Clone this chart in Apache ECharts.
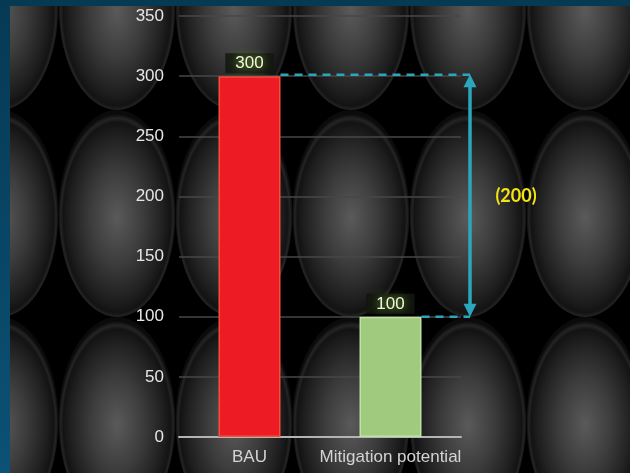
<!DOCTYPE html>
<html><head><meta charset="utf-8">
<script src="https://cdn.jsdelivr.net/npm/echarts@6/dist/echarts.min.js"></script>
<style>html,body{margin:0;padding:0;background:#0a4565}#c{width:630px;height:473px}</style>
</head><body><div id="c"></div>
<script>
// ---- data ----
const categories = ['BAU', 'Mitigation potential'];
const values = [300, 100];
const barColors = ['#ed1c24', '#a0cb7e'];
const yMin = 0, yMax = 350, yInterval = 50;
const gapLabel = '(' + (values[0] - values[1]) + ')';

const chart = echarts.init(document.getElementById('c'), null, {renderer: 'canvas'});

chart.setOption({
  animation: false,
  backgroundColor: 'transparent',
  grid: {left: 179, right: 169, top: 16, bottom: 36},
  xAxis: {
    type: 'category', data: categories,
    axisLine: {lineStyle: {color: '#b4b4b4', width: 2}},
    axisTick: {show: false},
    axisLabel: {interval: 0, color: '#d4d4d4', fontSize: 17, fontFamily: 'Liberation Sans, Arial', margin: 12}
  },
  yAxis: {
    type: 'value', min: yMin, max: yMax, interval: yInterval,
    axisLine: {show: false}, axisTick: {show: false},
    axisLabel: {color: '#e6e6e6', fontSize: 17, fontFamily: 'Liberation Sans, Arial', margin: 15},
    splitLine: {lineStyle: {color: '#474747', width: 1.5}}
  },
  series: [{
    type: 'bar', barWidth: 62, z: 5,
    data: values.map((v, i) => ({
      value: v,
      itemStyle: {
        color: barColors[i],
        borderColor: i === 0 ? '#f4503e' : '#c2e0a6',
        borderWidth: 1.5
      }
    })),
    label: {
      show: true, position: 'top', distance: 3,
      color: '#eef7dc', fontSize: 17, fontFamily: 'Liberation Sans, Arial',
      textShadowColor: 'rgba(150,210,60,1)', textShadowBlur: 8,
      backgroundColor: 'rgba(18,22,14,0.85)', padding: [2, 10, 1, 10]
    }
  }]
});

const yTop = chart.convertToPixel({yAxisIndex: 0}, values[0]);
const yBot = chart.convertToPixel({yAxisIndex: 0}, values[1]);
const xA = chart.convertToPixel({xAxisIndex: 0}, categories[0]) + 31;
const xB = chart.convertToPixel({xAxisIndex: 0}, categories[1]) + 31;
const arrowX = 470;
const cyan = '#2aa7bd';

const g = [];
g.push({type: 'rect', z: -100, silent: true, shape: {x: 0, y: 0, width: 630, height: 473}, style: {fill: '#000'}});
const grad = {type: 'radial', x: 0.5, y: 0.52, r: 0.5, colorStops: [
  {offset: 0, color: '#5a5a5a'}, {offset: 0.45, color: '#3c3c3c'}, {offset: 0.8, color: '#1f1f1f'},
  {offset: 0.92, color: '#131313'}, {offset: 0.96, color: '#242424'}, {offset: 1, color: '#0b0b0b'}]};
for (let j = 0; j < 3; j++) {
  for (let k = 0; k < 7; k++) {
    g.push({type: 'circle', z: -90, silent: true, x: 117 * k, y: 6.5 + 207 * j, scaleX: 58.5 / 103.5,
      shape: {cx: 0, cy: 0, r: 103.5}, style: {fill: grad}});
  }
}
const blue = {type: 'linear', x: 0, y: 0, x2: 0, y2: 1, colorStops: [{offset: 0, color: '#063954'}, {offset: 1, color: '#0b5275'}]};
g.push({type: 'rect', z: -50, silent: true, shape: {x: 0, y: 0, width: 10, height: 473}, style: {fill: blue}});
g.push({type: 'rect', z: -50, silent: true, shape: {x: 0, y: 0, width: 630, height: 6}, style: {fill: '#063954'}});

// dashed guides
g.push({type: 'line', z: 10, shape: {x1: xA, y1: yTop - 1.5, x2: arrowX, y2: yTop - 1.5}, style: {stroke: cyan, lineWidth: 2.5, lineDash: [8, 6]}});
g.push({type: 'line', z: 10, shape: {x1: xB, y1: yBot, x2: arrowX, y2: yBot}, style: {stroke: cyan, lineWidth: 2.5, lineDash: [8, 6]}});
// arrow
g.push({type: 'line', z: 10, shape: {x1: arrowX, y1: yTop + 8, x2: arrowX, y2: yBot - 8}, style: {stroke: cyan, lineWidth: 3.5}});
g.push({type: 'polygon', z: 10, shape: {points: [[arrowX, yTop - 2], [arrowX - 6.5, yTop + 11], [arrowX + 6.5, yTop + 11]]}, style: {fill: cyan}});
g.push({type: 'polygon', z: 10, shape: {points: [[arrowX, yBot], [arrowX - 6.5, yBot - 13], [arrowX + 6.5, yBot - 13]]}, style: {fill: cyan}});
g.push({type: 'text', z: 10, x: 516, y: (yTop + yBot) / 2, style: {text: gapLabel, fill: '#f2e414', font: 'bold 18px Lato, sans-serif', textAlign: 'center', textVerticalAlign: 'middle'}});

chart.setOption({graphic: g});
</script></body></html>
